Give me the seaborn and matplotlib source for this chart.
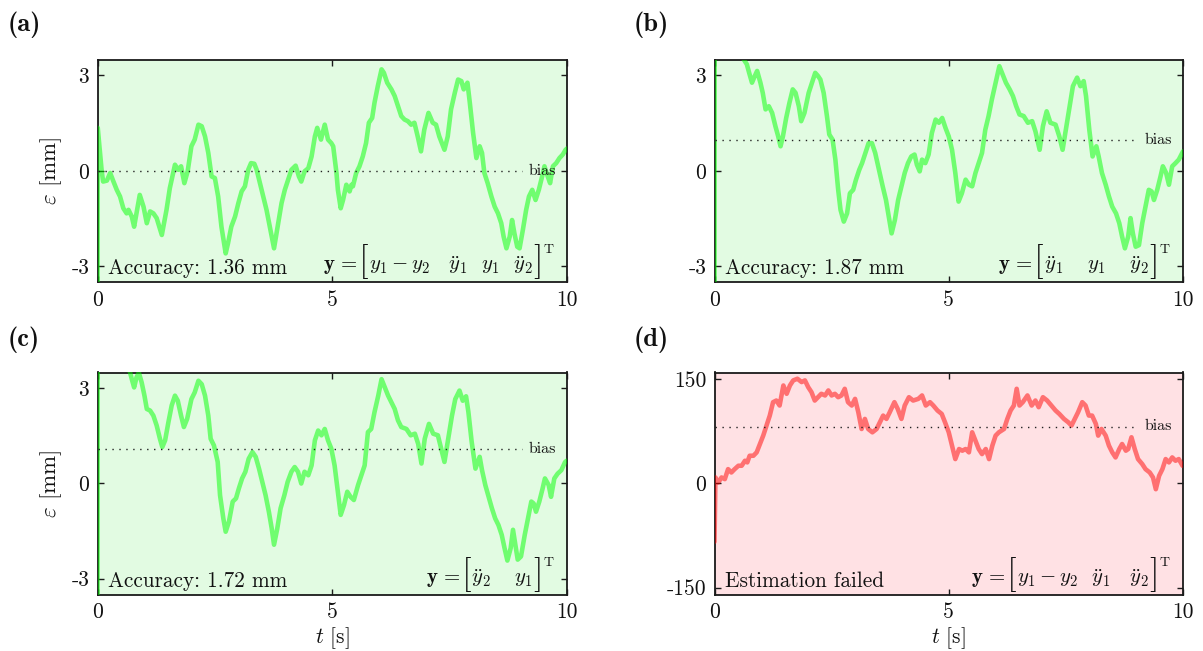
import numpy as np
import pandas as pd
import matplotlib
matplotlib.use("Agg")
import matplotlib.pyplot as plt
from matplotlib.offsetbox import TextArea, HPacker, AnchoredOffsetbox
import seaborn as sns

# ---------------- data ----------------
t_a = [0, 0.005, 0.09, 0.12, 0.20, 0.27, 0.34, 0.41, 0.48, 0.55,
       0.62, 0.66, 0.73, 0.78, 0.83, 0.90, 0.98, 1.05, 1.12, 1.19,
       1.26, 1.37, 1.47, 1.54, 1.65, 1.72, 1.78, 1.85, 1.92, 2.00,
       2.07, 2.15, 2.22, 2.29, 2.36, 2.43, 2.50, 2.57, 2.64, 2.73,
       2.78, 2.85, 2.93, 3.00, 3.07, 3.14, 3.21, 3.27, 3.34, 3.39,
       3.46, 3.53, 3.60, 3.67, 3.76, 3.85, 3.92, 3.99, 4.06, 4.13,
       4.22, 4.29, 4.34, 4.41, 4.49, 4.56, 4.63, 4.68, 4.76, 4.84,
       4.91, 4.98, 5.02, 5.09, 5.12, 5.18, 5.23, 5.30, 5.37, 5.41,
       5.44, 5.51, 5.58, 5.65, 5.72, 5.78, 5.85, 5.90, 5.97, 6.05,
       6.10, 6.17, 6.26, 6.33, 6.40, 6.47, 6.54, 6.61, 6.68, 6.75,
       6.82, 6.89, 6.96, 7.05, 7.14, 7.21, 7.28, 7.39, 7.46, 7.53,
       7.61, 7.68, 7.75, 7.80, 7.88, 7.93, 8.00, 8.07, 8.14, 8.19,
       8.24, 8.31, 8.39, 8.46, 8.53, 8.60, 8.65, 8.71, 8.78, 8.83,
       8.88, 8.94, 8.99, 9.06, 9.13, 9.19, 9.26, 9.33, 9.40, 9.47,
       9.52, 9.59, 9.64, 9.70, 9.77, 9.84, 9.91, 9.97, 10.0]
eps_a = [-10, 1.35, -0.02, -0.34, -0.31, -0.07, -0.34, -0.60, -0.81, -1.18,
         -1.34, -1.23, -1.44, -1.76, -1.34, -0.76, -1.13, -1.65, -1.28, -1.34,
         -1.49, -2.02, -1.23, -0.55, 0.19, 0.03, 0.14, -0.39, -0.02, 0.77,
         0.98, 1.45, 1.40, 1.08, 0.56, -0.18, -0.23, -0.81, -1.76, -2.60,
         -2.28, -1.76, -1.44, -1.02, -0.65, -0.49, 0.03, 0.24, 0.22, 0.03,
         -0.39, -0.81, -1.23, -1.76, -2.44, -1.65, -1.02, -0.60, -0.28, 0.03,
         0.16, -0.18, -0.34, -0.02, 0.08, 0.45, 1.08, 1.35, 0.98, 1.45,
         0.98, 0.87, 0.77, -0.07, -0.60, -1.18, -0.92, -0.44, -0.65, -0.44,
         -0.49, -0.07, 0.14, 0.45, 0.87, 1.51, 1.66, 2.14, 2.66, 3.19,
         3.08, 2.77, 2.56, 2.35, 2.03, 1.72, 1.61, 1.56, 1.45, 1.51,
         1.08, 0.61, 1.29, 1.82, 1.51, 1.45, 1.08, 0.66, 1.08, 1.93,
         2.45, 2.87, 2.82, 2.56, 2.77, 2.14, 1.19, 0.40, 0.77, 0.56,
         -0.07, -0.39, -0.81, -1.13, -1.34, -1.65, -2.07, -2.44, -2.07, -1.55,
         -1.97, -2.39, -2.44, -1.86, -1.23, -0.81, -0.60, -0.92, -0.60, -0.18,
         0.14, -0.18, -0.39, 0.14, 0.24, 0.40, 0.51, 0.66, 0.70]

t_b = [0, 0.005, 0.30, 0.62, 0.69, 0.74, 0.80, 0.86, 0.91, 0.98,
       1.03, 1.09, 1.16, 1.23, 1.30, 1.36, 1.41, 1.46, 1.53, 1.60,
       1.67, 1.73, 1.80, 1.85, 1.92, 2.01, 2.08, 2.15, 2.21, 2.26,
       2.33, 2.40, 2.45, 2.52, 2.58, 2.64, 2.69, 2.76, 2.83, 2.89,
       2.96, 3.02, 3.09, 3.15, 3.22, 3.29, 3.36, 3.43, 3.51, 3.59,
       3.66, 3.72, 3.78, 3.85, 3.92, 3.99, 4.06, 4.13, 4.20, 4.27,
       4.32, 4.38, 4.43, 4.50, 4.57, 4.64, 4.72, 4.79, 4.86, 4.93,
       5.00, 5.07, 5.14, 5.21, 5.28, 5.36, 5.43, 5.50, 5.57, 5.64,
       5.71, 5.78, 5.85, 5.92, 6.00, 6.08, 6.15, 6.22, 6.30, 6.37,
       6.44, 6.51, 6.60, 6.69, 6.78, 6.85, 6.94, 7.01, 7.09, 7.17,
       7.28, 7.36, 7.43, 7.50, 7.58, 7.65, 7.74, 7.81, 7.88, 7.93,
       8.00, 8.07, 8.15, 8.20, 8.27, 8.35, 8.42, 8.49, 8.57, 8.64,
       8.70, 8.76, 8.83, 8.88, 8.93, 8.99, 9.06, 9.13, 9.20, 9.27,
       9.33, 9.38, 9.45, 9.52, 9.57, 9.64, 9.70, 9.77, 9.84, 9.91,
       10.0]
eps_b = [-10, 5.0, 4.4, 3.51, 3.35, 3.08, 2.77, 2.98, 3.14, 2.77,
         2.45, 1.93, 2.03, 1.82, 1.40, 1.08, 0.77, 1.08, 1.66, 2.14,
         2.56, 2.45, 2.03, 1.56, 1.82, 2.45, 2.77, 3.08, 2.98, 2.87,
         2.45, 1.72, 1.14, 0.98, 0.35, -0.60, -1.23, -1.60, -1.34, -0.71,
         -0.60, -0.28, 0.03, 0.24, 0.56, 0.87, 0.87, 0.56, 0.03, -0.49,
         -0.92, -1.44, -1.97, -1.55, -0.92, -0.49, -0.07, 0.24, 0.45, 0.51,
         0.19, -0.02, 0.35, 0.24, 0.51, 1.19, 1.61, 1.51, 1.66, 1.35,
         1.08, 0.66, -0.07, -0.97, -0.71, -0.28, -0.44, -0.49, -0.07, 0.24,
         0.56, 1.29, 1.72, 2.24, 2.77, 3.29, 3.03, 2.77, 2.56, 2.35,
         2.03, 1.77, 1.72, 1.51, 1.56, 1.24, 0.66, 1.40, 1.87, 1.51,
         1.45, 1.08, 0.66, 1.29, 2.03, 2.66, 2.93, 2.66, 2.82, 2.35,
         1.29, 0.45, 0.77, 0.45, -0.07, -0.44, -0.81, -1.13, -1.34, -1.65,
         -2.07, -2.44, -2.07, -1.49, -1.97, -2.39, -2.34, -1.65, -1.13, -0.60,
         -0.65, -0.92, -0.60, -0.18, 0.14, -0.07, -0.44, 0.14, 0.24, 0.35,
         0.61]

t_c = [0, 0.005, 0.35, 0.69, 0.74, 0.78, 0.83, 0.88, 0.94, 1.00,
       1.05, 1.12, 1.19, 1.26, 1.33, 1.38, 1.44, 1.51, 1.58, 1.65,
       1.71, 1.78, 1.84, 1.91, 2.00, 2.07, 2.15, 2.22, 2.29, 2.36,
       2.41, 2.48, 2.56, 2.61, 2.68, 2.73, 2.80, 2.88, 2.95, 3.01,
       3.08, 3.15, 3.22, 3.30, 3.37, 3.44, 3.51, 3.58, 3.65, 3.71,
       3.76, 3.83, 3.90, 3.98, 4.05, 4.13, 4.20, 4.27, 4.34, 4.41,
       4.49, 4.56, 4.63, 4.70, 4.77, 4.84, 4.91, 4.98, 5.05, 5.11,
       5.18, 5.25, 5.32, 5.39, 5.46, 5.55, 5.62, 5.69, 5.76, 5.83,
       5.90, 5.98, 6.05, 6.12, 6.19, 6.26, 6.33, 6.40, 6.47, 6.58,
       6.67, 6.76, 6.83, 6.90, 6.97, 7.06, 7.15, 7.25, 7.32, 7.39,
       7.46, 7.55, 7.62, 7.71, 7.78, 7.85, 7.90, 7.97, 8.05, 8.14,
       8.19, 8.26, 8.33, 8.40, 8.47, 8.54, 8.61, 8.67, 8.73, 8.80,
       8.85, 8.90, 8.95, 9.02, 9.10, 9.17, 9.24, 9.29, 9.34, 9.41,
       9.48, 9.53, 9.61, 9.66, 9.73, 9.80, 9.88, 9.96, 10.0]
eps_c = [-10, 5.0, 4.5, 3.52, 3.24, 3.03, 3.34, 3.50, 3.19, 2.77,
         2.35, 2.30, 2.14, 1.83, 1.41, 1.15, 1.36, 1.93, 2.46, 2.77,
         2.61, 2.14, 1.78, 2.04, 2.66, 2.87, 3.24, 3.13, 2.77, 2.14,
         1.41, 1.20, 0.68, -0.37, -1.10, -1.52, -1.20, -0.57, -0.47, -0.16,
         0.16, 0.37, 0.78, 0.99, 0.84, 0.47, 0.05, -0.37, -0.89, -1.41,
         -1.93, -1.41, -0.78, -0.37, 0.05, 0.37, 0.52, 0.37, 0.00, 0.37,
         0.26, 0.57, 1.36, 1.67, 1.52, 1.72, 1.36, 1.10, 0.57, -0.16,
         -0.99, -0.68, -0.26, -0.42, -0.52, -0.05, 0.26, 0.57, 1.62, 1.72,
         2.25, 2.77, 3.29, 3.03, 2.77, 2.56, 2.35, 1.99, 1.78, 1.72,
         1.52, 1.57, 1.25, 0.63, 1.41, 1.88, 1.57, 1.52, 1.10, 0.68,
         1.31, 2.14, 2.66, 2.93, 2.61, 2.75, 2.25, 1.31, 0.47, 0.84,
         0.42, -0.05, -0.42, -0.78, -1.10, -1.31, -1.62, -2.04, -2.43, -2.04,
         -1.46, -1.93, -2.40, -2.30, -1.62, -1.10, -0.57, -0.63, -0.89, -0.57,
         -0.16, 0.16, -0.05, -0.42, 0.16, 0.31, 0.42, 0.68, 0.72]

t_d = [0, 0.02, 0.08, 0.15, 0.22, 0.29, 0.36, 0.43, 0.51, 0.58,
       0.65, 0.70, 0.75, 0.83, 0.90, 0.97, 1.04, 1.11, 1.18, 1.25,
       1.32, 1.39, 1.47, 1.54, 1.61, 1.68, 1.77, 1.86, 1.93, 2.00,
       2.07, 2.14, 2.21, 2.28, 2.36, 2.43, 2.50, 2.57, 2.64, 2.71,
       2.78, 2.85, 2.93, 3.00, 3.07, 3.14, 3.21, 3.28, 3.37, 3.46,
       3.53, 3.60, 3.67, 3.74, 3.84, 3.91, 3.99, 4.06, 4.15, 4.24,
       4.35, 4.43, 4.51, 4.60, 4.67, 4.76, 4.85, 4.92, 5.00, 5.07,
       5.14, 5.22, 5.29, 5.36, 5.43, 5.50, 5.57, 5.64, 5.71, 5.79,
       5.86, 5.93, 6.00, 6.07, 6.18, 6.25, 6.32, 6.39, 6.45, 6.51,
       6.58, 6.68, 6.77, 6.85, 6.92, 7.01, 7.10, 7.19, 7.28, 7.36,
       7.46, 7.55, 7.62, 7.69, 7.76, 7.85, 7.92, 7.99, 8.06, 8.14,
       8.19, 8.26, 8.35, 8.42, 8.49, 8.56, 8.64, 8.70, 8.78, 8.83,
       8.90, 8.97, 9.04, 9.13, 9.20, 9.29, 9.36, 9.42, 9.49, 9.56,
       9.63, 9.70, 9.77, 9.84, 9.91, 9.99, 10.0]
eps_d = [-84, 8.7, 1.4, 8.7, 6.3, 20.7, 15.9, 20.7, 25.6, 25.6,
         32.8, 30.4, 40.0, 40.0, 44.9, 56.9, 69.0, 83.5, 97.9, 117.2,
         119.6, 112.4, 141.3, 129.3, 141.3, 148.6, 151.0, 146.2, 148.6, 138.9,
         131.7, 119.6, 124.4, 129.3, 126.9, 134.1, 126.9, 129.3, 124.4, 126.9,
         136.5, 117.2, 112.4, 122.0, 102.7, 78.6, 93.1, 78.6, 73.8, 78.6,
         88.3, 97.9, 93.1, 102.7, 117.2, 107.6, 93.1, 112.4, 124.4, 119.6,
         122.0, 126.9, 112.4, 117.2, 112.4, 105.2, 100.3, 88.3, 73.8, 54.5,
         35.2, 49.7, 47.3, 49.7, 44.9, 73.8, 61.7, 49.7, 42.4, 49.7,
         35.2, 54.5, 69.0, 73.8, 78.6, 93.1, 105.2, 112.4, 136.5, 112.4,
         117.2, 126.9, 112.4, 119.6, 110.0, 124.4, 119.6, 112.4, 105.2, 100.3,
         93.1, 88.3, 83.5, 93.1, 102.7, 117.2, 112.4, 97.9, 97.9, 85.9,
         69.0, 78.6, 69.0, 54.5, 44.9, 37.6, 49.7, 56.9, 47.3, 49.7,
         66.6, 49.7, 35.2, 28.0, 20.7, 15.9, 8.7, -8.2, 11.1, 20.7,
         35.2, 30.4, 37.6, 32.8, 35.2, 25.6, 27.0]

bias_values = [0.0, 0.96, 1.09, 82.0]
panel_labels = ["(a)", "(b)", "(c)", "(d)"]
notes = ["Accuracy: 1.36 mm", "Accuracy: 1.87 mm", "Accuracy: 1.72 mm", "Estimation failed"]
eq_contents = [
    r"$y_1 - y_2 \quad \ddot{y}_1 \;\;\, y_1 \;\;\, \ddot{y}_2$",
    r"$\ddot{y}_1 \quad\; y_1 \quad\; \ddot{y}_2$",
    r"$\ddot{y}_2 \quad\; y_1$",
    r"$y_1 - y_2 \;\;\, \ddot{y}_1 \quad \ddot{y}_2$",
]
xticks = [0, 5, 10]
xticklabels = ["0", "5", "10"]
yticks_mm = [-3, 0, 3]
yticklabels_mm = ["-3", "0", "3"]
yticks_fail = [-150, 0, 150]
yticklabels_fail = ["-150", "0", "150"]

# ---------------- style ----------------
sns.set_theme(style="ticks")
plt.rcParams.update({
    "font.family": ["cmr10", "DejaVu Serif"],
    "mathtext.fontset": "cm",
    "axes.unicode_minus": False,
    "axes.formatter.use_mathtext": True,
})

GREEN_BG = "#E2FBE2"
RED_BG = "#FFE1E4"
GREEN_LINE = "#00FF00"
RED_LINE = "#FF0000"
SPINE = "#1a1a1a"
TXT = "#111111"

W, H = 1203, 651
fig = plt.figure(figsize=(W / 100, H / 100), dpi=100)

def rect(left, right, top, bottom):
    return [left / W, 1 - bottom / H, (right - left) / W, (bottom - top) / H]

rects = [rect(97.5, 567, 59.5, 282), rect(714.5, 1183, 59.5, 282),
         rect(97.5, 567, 372.5, 594.5), rect(714.5, 1183, 372.5, 594.5)]
label_pos = [(8, 25), (634, 25), (8, 340), (634, 340)]

series = [(t_a, eps_a), (t_b, eps_b), (t_c, eps_c), (t_d, eps_d)]


def equation_box(content):
    fs = 15
    inner = HPacker(children=[
        TextArea(r"$\mathbf{y}$ = ", textprops=dict(fontsize=fs, color=TXT)),
        TextArea("[", textprops=dict(fontsize=25, color=TXT, fontfamily="cmr10")),
        TextArea(content, textprops=dict(fontsize=fs, color=TXT)),
        TextArea("]", textprops=dict(fontsize=25, color=TXT, fontfamily="cmr10")),
    ], align="baseline", pad=0, sep=0)
    tee = TextArea("T", textprops=dict(fontsize=10, color=TXT, fontfamily="cmr10"))
    return HPacker(children=[inner, tee], align="top", pad=0, sep=1)


for i in range(4):
    ax = fig.add_axes(rects[i])
    failed = (i == 3)
    ax.set_facecolor(RED_BG if failed else GREEN_BG)
    t, e = series[i]
    df = pd.DataFrame({"t": t, "eps": e})
    sns.lineplot(data=df, x="t", y="eps", ax=ax, estimator=None, sort=False,
                 color=RED_LINE if failed else GREEN_LINE, alpha=0.5, lw=3.3,
                 zorder=2)
    ax.hlines(bias_values[i], 0, 9.05, colors="#222222", linestyles=(0, (1, 4)),
              lw=1.0, zorder=3)
    ax.text(9.18, bias_values[i], "bias", fontsize=11.5, va="center", ha="left",
            color=TXT, zorder=4)
    ax.set_xlim(0, 10)
    if failed:
        ax.set_ylim(-160, 160)
        ax.set_yticks(yticks_fail)
        ax.set_yticklabels(yticklabels_fail)
    else:
        ax.set_ylim(-3.5, 3.5)
        ax.set_yticks(yticks_mm)
        ax.set_yticklabels(yticklabels_mm)
    ax.set_xticks(xticks)
    ax.set_xticklabels(xticklabels)
    ax.tick_params(direction="in", top=True, right=True, length=4, width=1,
                   colors=SPINE, labelsize=15.5, pad=6, labelcolor=TXT)
    for s in ax.spines.values():
        s.set_color(SPINE)
        s.set_linewidth(1.3)
        s.set_zorder(1)
    ax.set_xlabel(r"$t$ [s]" if i >= 2 else "", fontsize=15.5, labelpad=2, color=TXT)
    ax.set_ylabel(r"$\varepsilon$ [mm]" if i in (0, 2) else "", fontsize=16.5,
                  labelpad=5, color=TXT)
    ax.text(0.022, 0.035, notes[i], transform=ax.transAxes, fontsize=15.3,
            ha="left", va="baseline", color=TXT, zorder=4)
    box = AnchoredOffsetbox(loc="lower right", child=equation_box(eq_contents[i]),
                            pad=0, borderpad=0, frameon=False,
                            bbox_to_anchor=(0.972, 0.012),
                            bbox_transform=ax.transAxes)
    box.set_zorder(4)
    ax.add_artist(box)
    lx, ly = label_pos[i]
    fig.text(lx / W, 1 - ly / H, panel_labels[i], fontfamily="cmb10",
             fontsize=19, ha="left", va="center", color=TXT)

fig.savefig("out.png", dpi=100)
